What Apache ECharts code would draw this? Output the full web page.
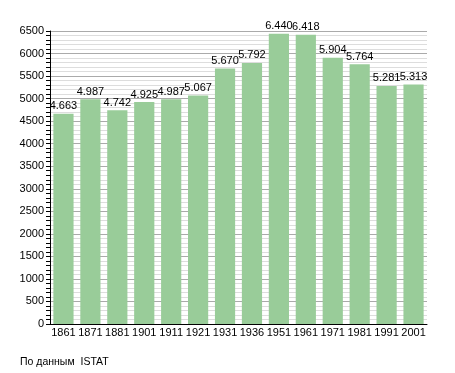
<!DOCTYPE html>
<html><head><meta charset="utf-8">
<script src="https://cdn.jsdelivr.net/npm/echarts@6/dist/echarts.min.js"></script>
<style>html,body{margin:0;padding:0;background:#fff}#c{width:455px;height:373px}</style>
</head><body><div id="c"></div>
<script>
var years = ['1861','1871','1881','1901','1911','1921','1931','1936','1951','1961','1971','1981','1991','2001'];
var population = [4663,4987,4742,4925,4987,5067,5670,5792,6440,6418,5904,5764,5281,5313];
var yTicks = {min:0, max:6500, interval:500};
var source = 'По данным  ISTAT';

function fmt(v){ var s=String(v); return s.length>3 ? s.slice(0,s.length-3)+'.'+s.slice(-3) : s; }

var chart = echarts.init(document.getElementById('c'), null, {renderer:'canvas'});
chart.setOption({
  animation:false,
  textStyle:{fontFamily:'Liberation Sans, Arial, sans-serif'},
  grid:{left:50, right:28, top:31, bottom:49},
  xAxis:{type:'category', data:years,
    axisLine:{lineStyle:{color:'#000',width:1}}, axisTick:{show:false},
    axisLabel:{color:'#000', fontSize:11, margin:3, interval:0}},
  yAxis:{type:'value', min:yTicks.min, max:yTicks.max, interval:yTicks.interval,
    axisLine:{show:true, lineStyle:{color:'#000',width:1}},
    axisTick:{show:true, length:4, lineStyle:{color:'#000'}},
    minorTick:{show:true, splitNumber:5, length:4, lineStyle:{color:'#000'}},
    splitLine:{lineStyle:{color:'#aaaaaa'}},
    minorSplitLine:{show:true, lineStyle:{color:'#dddddd'}},
    axisLabel:{color:'#000', fontSize:11, margin:6, formatter:function(v){return String(v);}}},
  series:[{type:'bar', data:population, barCategoryGap:'25%',
    itemStyle:{color:'#99cc99'},
    label:{show:true, position:'top', distance:2, color:'#000', fontSize:11,
      formatter:function(p){return fmt(p.value);}}}],
  graphic:[{type:'text', left:20, top:357, style:{text:source, fill:'#000', fontSize:10.5, fontFamily:'Liberation Sans, Arial, sans-serif'}}]
});
</script></body></html>
